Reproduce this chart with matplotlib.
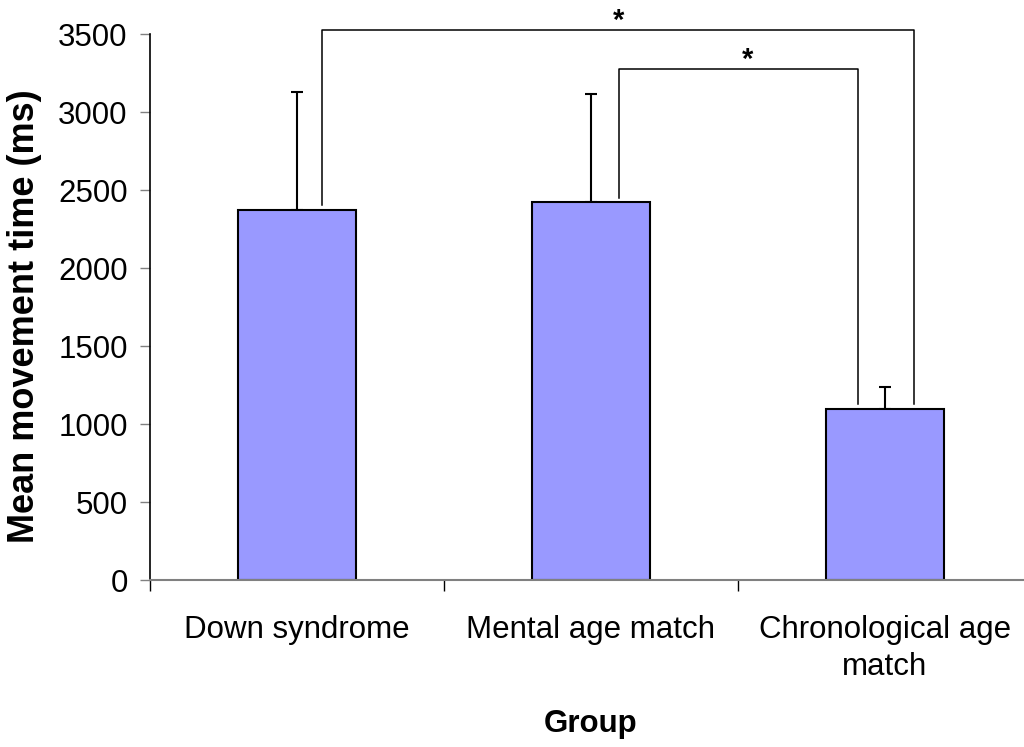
import matplotlib.pyplot as plt
import numpy as np

plt.rcParams['font.family'] = ['Liberation Sans', 'DejaVu Sans']

groups = ["Down syndrome", "Mental age match", "Chronological age\nmatch"]
means = [2375, 2420, 1098]
sds = [755, 695, 140]

# significance brackets: (left group, right group, bracket height)
brackets = [(0, 2, 3525), (1, 2, 3275)]

fig = plt.figure(figsize=(10.24, 7.47), dpi=100)
ax = fig.add_axes([150 / 1024, 1 - 580 / 747, 882 / 1024, 546 / 747])

x = np.arange(len(groups))
ax.bar(x, means, width=0.4, color='#9999FF', edgecolor='black', linewidth=1.5, zorder=2)
ax.errorbar(x, means, yerr=[np.zeros(len(sds)), sds], fmt='none', ecolor='black',
            elinewidth=1.5, capsize=4, capthick=1.5, zorder=1)

for (i, j, h), dx_l, dx_r, dx_s in zip(brackets, [0.085, 0.095], [0.10, -0.092], [0.0, 0.03]):
    xl = x[i] + dx_l
    xr = x[j] + dx_r
    ax.plot([xl, xl, xr, xr], [means[i] + 30, h, h, means[j] + 30],
            color='black', linewidth=1.1, clip_on=False, zorder=3)
    ax.text((xl + xr) / 2 + dx_s, h + 5, '*', ha='center', va='baseline',
            fontsize=21, fontweight='bold', clip_on=False)

ax.set_xlim(-0.5, 2.5)
ax.set_ylim(0, 3500)
ax.set_yticks(np.arange(0, 3501, 500))
ax.set_xticks(x)
ax.set_xticklabels(groups, fontsize=22.5, linespacing=1.3)
ax.set_xticks([-0.5, 0.5, 1.5, 2.5], minor=True)
ax.tick_params(axis='x', which='major', length=0, pad=25)
ax.tick_params(axis='x', which='minor', length=8, width=1, direction='out', color='black')
ax.tick_params(axis='y', labelsize=22.5, length=7, width=1, pad=9, color='#808080')

for s in ['top', 'right']:
    ax.spines[s].set_visible(False)
ax.spines['bottom'].set_color('#808080')
ax.spines['bottom'].set_linewidth(1.5)
ax.spines['left'].set_color('black')
ax.spines['left'].set_linewidth(1.2)

ax.set_ylabel('Mean movement time (ms)', fontsize=26, fontweight='bold', va='center')
ax.yaxis.set_label_coords((25 - 150) / 882, (580 - 316) / 546)
ax.set_xlabel('Group', fontsize=22.5, fontweight='bold', va='center')
ax.xaxis.set_label_coords((591 - 150) / 882, (580 - 724) / 546)

fig.savefig('out.png', dpi=100)
